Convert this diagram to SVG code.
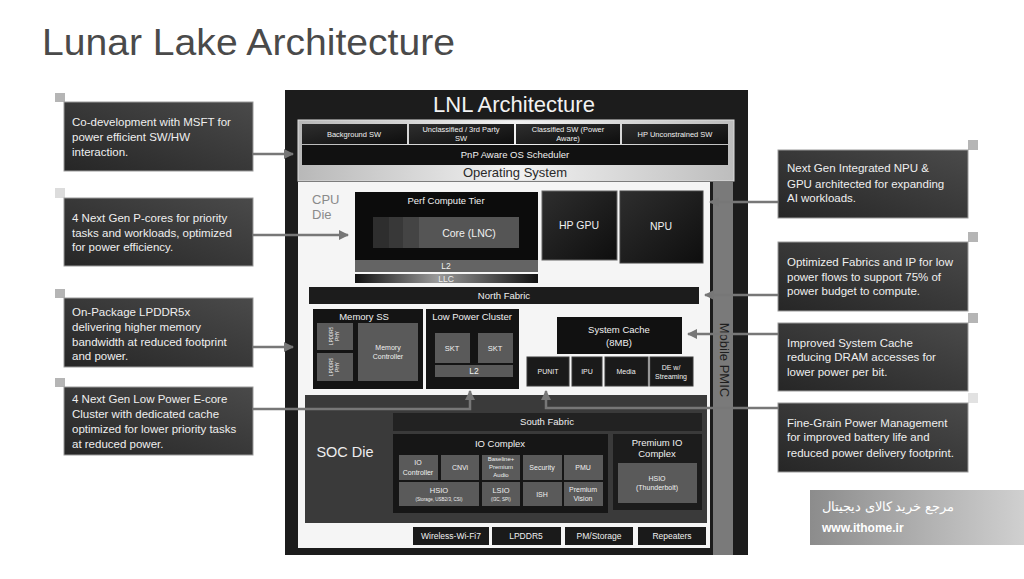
<svg xmlns="http://www.w3.org/2000/svg" width="1024" height="579" viewBox="0 0 1024 579">
<defs>
<linearGradient id="callout" x1="0" y1="1" x2="1" y2="0">
<stop offset="0" stop-color="#262626"/><stop offset="1" stop-color="#4a4a4a"/>
</linearGradient>
<linearGradient id="silver" x1="0" y1="0" x2="1" y2="0">
<stop offset="0" stop-color="#b8b8b8"/><stop offset="0.5" stop-color="#f2f2f2"/><stop offset="1" stop-color="#bdbdbd"/>
</linearGradient>
<linearGradient id="darkbox" x1="0" y1="0" x2="1" y2="1">
<stop offset="0" stop-color="#2e2e2e"/><stop offset="1" stop-color="#0e0e0e"/>
</linearGradient>
<linearGradient id="llc" x1="0" y1="0" x2="1" y2="0">
<stop offset="0" stop-color="#111"/><stop offset="0.45" stop-color="#9a9a9a"/><stop offset="1" stop-color="#111"/>
</linearGradient>
<linearGradient id="wm" x1="0" y1="0" x2="1" y2="0">
<stop offset="0" stop-color="#8c8c8c"/><stop offset="1" stop-color="#d0d0d0"/>
</linearGradient>
<marker id="arr" viewBox="0 0 10 10" refX="9" refY="5" markerWidth="5" markerHeight="4" orient="auto-start-reverse" markerUnits="strokeWidth">
<path d="M0,0 L10,5 L0,10 z" fill="#777"/>
</marker>
<style>
text{font-family:"Liberation Sans",Arial,sans-serif}
.ct{font-size:11.5px;fill:#efefef}
.co{fill:url(#callout);stroke:#9a9a9a;stroke-width:1}
.mk{fill:#b5b5b5}
.g{fill:#5a5a5a}
.w{fill:#f0f0f0;text-anchor:middle}
.s8{font-size:9.5px}
.s7{font-size:7.5px}
.sb{font-size:8.5px}
.s6{font-size:7px}
.s4{font-size:4.5px}
.s10{font-size:10.5px}
.conn{stroke:#777;stroke-width:2.5;fill:none}
.lbx{fill:#1a1a1a;stroke:#3a3a3a;stroke-width:1}
</style>
</defs>

<rect width="1024" height="579" fill="#ffffff"/>

<text id="title" x="42" y="55" font-size="36" fill="#4a4a4a" textLength="413" lengthAdjust="spacingAndGlyphs">Lunar Lake Architecture</text>

<g id="lnl">
<rect x="285" y="90" width="463" height="465" fill="#1c1c1c"/>
<text x="514" y="112" font-size="22" fill="#f2f2f2" text-anchor="middle">LNL Architecture</text>
</g>

<g id="os">
<rect x="298" y="120" width="436" height="61" fill="url(#silver)" stroke="#ddd"/>
<rect x="302" y="124" width="105" height="20" fill="url(#darkbox)"/>
<rect x="409" y="124" width="105" height="20" fill="url(#darkbox)"/>
<rect x="516" y="124" width="104" height="20" fill="url(#darkbox)"/>
<rect x="622" y="124" width="106" height="20" fill="url(#darkbox)"/>
<text class="w s7" x="354" y="137">Background SW</text>
<text class="w s7" x="461" y="132">Unclassified / 3rd Party</text>
<text class="w s7" x="461" y="141">SW</text>
<text class="w s7" x="568" y="132">Classified SW (Power</text>
<text class="w s7" x="568" y="141">Aware)</text>
<text class="w s7" x="675" y="137">HP Unconstrained SW</text>
<rect x="302" y="145" width="426" height="20" fill="#111"/>
<text class="w" font-size="9.5" x="515" y="158">PnP Aware OS Scheduler</text>
<text x="515" y="177" font-size="13" fill="#2a2a2a" text-anchor="middle">Operating System</text>
</g>

<g id="cpu-die">
<rect x="298" y="182" width="412" height="366" fill="#f5f5f5"/>
<text x="312" y="204" font-size="13" fill="#8a8a8a">CPU</text>
<text x="312" y="219" font-size="13" fill="#8a8a8a">Die</text>
</g>

<g id="pmic">
<rect x="713" y="182" width="20" height="373" fill="#7a7a7a"/>
<text x="723" y="360" font-size="13" fill="#1e1e1e" text-anchor="middle" transform="rotate(90 723 360)" dominant-baseline="middle">Mobile PMIC</text>
</g>

<g id="perf">
<rect x="355" y="192" width="183" height="68" fill="#0c0c0c"/>
<text class="w s8" x="446" y="204">Perf Compute Tier</text>
<rect x="373" y="217" width="16" height="31" fill="#2e2e2e"/>
<rect x="389" y="217" width="14" height="31" fill="#383838"/>
<rect x="403" y="217" width="16" height="31" fill="#444"/>
<rect x="419" y="217" width="100" height="31" fill="#555"/>
<text class="w" x="469" y="237" font-size="10.5">Core (LNC)</text>
<rect x="355" y="260" width="183" height="12" fill="#646464"/>
<text class="w" font-size="8.5" x="446" y="269">L2</text>
<rect x="355" y="274" width="183" height="9" fill="url(#llc)"/>
<text class="w" font-size="8.5" x="446" y="282">LLC</text>
</g>

<g id="gpu">
<rect x="542" y="191" width="75" height="69" fill="url(#darkbox)" stroke="#666"/>
<text class="w s10" x="579" y="229">HP GPU</text>
</g>
<g id="npu">
<rect x="620" y="191" width="83" height="72" fill="url(#darkbox)" stroke="#444"/>
<text class="w s10" x="661" y="230">NPU</text>
</g>

<g id="north-fabric">
<rect x="309" y="287" width="390" height="17" fill="#1c1c1c"/>
<text class="w s8" x="504" y="299">North Fabric</text>
</g>

<g id="memory-ss">
<rect x="313" y="309" width="110" height="80" fill="#141414"/>
<text class="w s8" x="364" y="320">Memory SS</text>
<rect x="317" y="323" width="36" height="27" class="g"/>
<rect x="317" y="353" width="36" height="28" class="g"/>
<text class="w s4" transform="translate(333 336) rotate(-90)">LPDDR5</text>
<text class="w s4" transform="translate(339 336) rotate(-90)">PHY</text>
<text class="w s4" transform="translate(333 367) rotate(-90)">LPDDR5</text>
<text class="w s4" transform="translate(339 367) rotate(-90)">PHY</text>
<rect x="358" y="323" width="60" height="58" class="g"/>
<text class="w s6" x="388" y="350">Memory</text>
<text class="w s6" x="388" y="359">Controller</text>
</g>

<g id="lp-cluster">
<rect x="426" y="309" width="93" height="80" fill="#141414"/>
<text class="w s8" x="472" y="320">Low Power Cluster</text>
<rect x="435" y="333" width="35" height="30" class="g"/>
<rect x="478" y="333" width="35" height="30" class="g"/>
<text class="w" font-size="7.5" x="452" y="351">SKT</text>
<text class="w" font-size="7.5" x="495" y="351">SKT</text>
<rect x="435" y="365" width="78" height="12" class="g"/>
<text class="w sb" x="474" y="374">L2</text>
</g>

<g id="system-cache">
<rect x="557" y="317" width="125" height="37" fill="#111"/>
<text class="w s8" x="619" y="333">System Cache</text>
<text class="w s8" x="619" y="346">(8MB)</text>
</g>
<g id="punit"><rect x="527" y="357" width="42" height="29" class="lbx"/><text class="w s6" x="548" y="374">PUNIT</text></g>
<g id="ipu"><rect x="572" y="357" width="30" height="29" class="lbx"/><text class="w s6" x="587" y="374">IPU</text></g>
<g id="media"><rect x="605" y="357" width="43" height="29" class="lbx"/><text class="w s6" x="626" y="374">Media</text></g>
<g id="de"><rect x="650" y="357" width="43" height="29" class="lbx"/><text class="w s6" x="671" y="370">DE w/</text><text class="w s6" x="671" y="379">Streaming</text></g>

<g id="soc-die">
<rect x="305" y="395" width="402" height="128" fill="#3a3a3a"/>
<text x="345" y="457" font-size="14.5" fill="#eeeeee" text-anchor="middle">SOC Die</text>
</g>

<g id="south-fabric">
<rect x="393" y="413" width="309" height="18" fill="#222"/>
<text class="w s8" x="547" y="425">South Fabric</text>
</g>

<g id="io-complex">
<rect x="393" y="434" width="215" height="79" fill="#161616"/>
<text class="w s8" x="500" y="447">IO Complex</text>
<rect x="399" y="455" width="39" height="25" class="g"/>
<text class="w s6" x="418" y="465">IO</text><text class="w s6" x="418" y="475">Controller</text>
<rect x="441" y="455" width="38" height="25" class="g"/>
<text class="w s6" x="460" y="470">CNVi</text>
<rect x="482" y="455" width="38" height="25" class="g"/>
<text class="w" font-size="6" x="501" y="461">Baseline+</text><text class="w" font-size="6" x="501" y="469">Premium</text><text class="w" font-size="6" x="501" y="477">Audio</text>
<rect x="523" y="455" width="39" height="25" class="g"/>
<text class="w s6" x="542" y="470">Security</text>
<rect x="564" y="455" width="39" height="25" class="g"/>
<text class="w s6" x="583" y="470">PMU</text>
<rect x="399" y="482" width="80" height="24" class="g"/>
<text class="w s7" x="439" y="493">HSIO</text><text class="w" font-size="4.5" x="439" y="501">(Storage, USB2/3, CSI)</text>
<rect x="482" y="482" width="38" height="24" class="g"/>
<text class="w s7" x="501" y="493">LSIO</text><text class="w" font-size="4.5" x="501" y="501">(I3C, SPI)</text>
<rect x="523" y="482" width="39" height="24" class="g"/>
<text class="w s6" x="542" y="497">ISH</text>
<rect x="564" y="482" width="39" height="24" class="g"/>
<text class="w s6" x="583" y="492">Premium</text><text class="w s6" x="583" y="501">Vision</text>
</g>

<g id="premium-io">
<rect x="613" y="434" width="89" height="76" fill="#1c1c1c"/>
<text class="w s8" x="657" y="446">Premium IO</text>
<text class="w s8" x="657" y="457">Complex</text>
<rect x="618" y="463" width="79" height="40" class="g"/>
<text class="w s6" x="657" y="481">HSIO</text>
<text class="w s6" x="657" y="490">(Thunderbolt)</text>
</g>

<g id="bottom-row">
<rect x="413" y="527" width="76" height="18" fill="#1a1a1a"/><text class="w sb" x="451" y="539">Wireless-Wi-Fi7</text>
<rect x="492" y="527" width="69" height="18" fill="#1a1a1a"/><text class="w sb" x="526" y="539">LPDDR5</text>
<rect x="565" y="527" width="68" height="18" fill="#1a1a1a"/><text class="w sb" x="599" y="539">PM/Storage</text>
<rect x="638" y="527" width="68" height="18" fill="#1a1a1a"/><text class="w sb" x="672" y="539">Repeaters</text>
</g>

<g id="c1">
<rect class="mk" x="55" y="93" width="10" height="9"/>
<rect class="co" x="64" y="102" width="189" height="69"/>
<text class="ct" x="72" y="126">Co-development with MSFT for</text>
<text class="ct" x="72" y="141">power efficient SW/HW</text>
<text class="ct" x="72" y="156">interaction.</text>
</g>
<g id="c2">
<rect x="55" y="188" width="10" height="10" style="fill:#dcdcdc"/>
<rect class="co" x="64" y="198" width="189" height="68"/>
<text class="ct" x="72" y="222">4 Next Gen P-cores for priority</text>
<text class="ct" x="72" y="237">tasks and workloads, optimized</text>
<text class="ct" x="72" y="251">for power efficiency.</text>
</g>
<g id="c3">
<rect class="mk" x="55" y="289" width="10" height="9"/>
<rect class="co" x="64" y="298" width="189" height="69"/>
<text class="ct" x="72" y="316">On-Package LPDDR5x</text>
<text class="ct" x="72" y="331">delivering higher memory</text>
<text class="ct" x="72" y="346">bandwidth at reduced footprint</text>
<text class="ct" x="72" y="360">and power.</text>
</g>
<g id="c4">
<rect class="mk" x="55" y="378" width="10" height="9"/>
<rect class="co" x="64" y="387" width="189" height="68"/>
<text class="ct" x="72" y="403">4 Next Gen Low Power E-core</text>
<text class="ct" x="72" y="418">Cluster with dedicated cache</text>
<text class="ct" x="72" y="433">optimized for lower priority tasks</text>
<text class="ct" x="72" y="448">at reduced power.</text>
</g>
<g id="cA">
<rect class="mk" x="968" y="140" width="10" height="10"/>
<rect class="co" x="778" y="150" width="190" height="68"/>
<text class="ct" x="787" y="172">Next Gen Integrated NPU &amp;</text>
<text class="ct" x="787" y="188">GPU architected for expanding</text>
<text class="ct" x="787" y="202">AI workloads.</text>
</g>
<g id="cB">
<rect class="mk" x="968" y="232" width="10" height="10"/>
<rect class="co" x="778" y="242" width="190" height="69"/>
<text class="ct" x="787" y="266">Optimized Fabrics and IP for low</text>
<text class="ct" x="787" y="281">power flows to support 75% of</text>
<text class="ct" x="787" y="295">power budget to compute.</text>
</g>
<g id="cC">
<rect class="mk" x="968" y="313" width="10" height="10"/>
<rect class="co" x="778" y="323" width="190" height="68"/>
<text class="ct" x="787" y="347">Improved System Cache</text>
<text class="ct" x="787" y="361">reducing DRAM accesses for</text>
<text class="ct" x="787" y="376">lower power per bit.</text>
</g>
<g id="cD">
<rect x="968" y="393" width="10" height="10" style="fill:#e2e2e2"/>
<rect class="co" x="778" y="403" width="190" height="69"/>
<text class="ct" x="787" y="427">Fine-Grain Power Management</text>
<text class="ct" x="787" y="441">for improved battery life and</text>
<text class="ct" x="787" y="457">reduced power delivery footprint.</text>
</g>

<g id="connectors">
<path class="conn" d="M253,154 L293,154" marker-end="url(#arr)"/>
<path class="conn" d="M253,235 L348,235" marker-end="url(#arr)"/>
<path class="conn" d="M253,347 L293,347" marker-end="url(#arr)"/>
<path class="conn" d="M253,409 L470,409 L470,391" marker-end="url(#arr)"/>
<path class="conn" d="M778,202 L710,202" marker-end="url(#arr)"/>
<path class="conn" d="M778,295 L705,295" marker-end="url(#arr)"/>
<path class="conn" d="M778,334 L688,334" marker-end="url(#arr)"/>
<path class="conn" d="M778,408 L546,408 L546,391" marker-end="url(#arr)"/>
</g>

<g id="watermark">
<rect x="810" y="490" width="214" height="55" fill="url(#wm)"/>
<text x="822" y="511" font-size="13" fill="#ffffff" font-family="'DejaVu Sans',sans-serif">مرجع خرید کالای دیجیتال</text>
<text x="822" y="532" font-size="12" font-weight="bold" fill="#ffffff">www.ithome.ir</text>
</g>
</svg>
